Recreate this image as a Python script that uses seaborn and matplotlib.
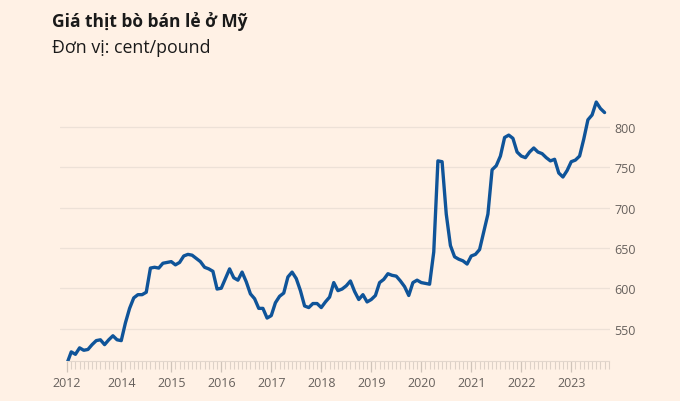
import numpy as np
import pandas as pd
import matplotlib
matplotlib.use("Agg")
import matplotlib.pyplot as plt
import seaborn as sns

# Monthly retail beef price (cent/pound), Dec 2012 .. Sep 2023
prices = [
    507, 521, 518, 526, 523, 524, 530, 535, 536, 530, 536, 541, 536,   # Dec12-Dec13
    535, 557, 575, 588, 592, 592, 595, 625, 626, 625, 631, 632,        # 2014
    633, 629, 632, 640, 642, 641, 637, 633, 626, 624, 621, 599,        # 2015
    600, 612, 624, 613, 610, 620, 608, 593, 587, 575, 575, 563,        # 2016
    566, 582, 590, 594, 614, 620, 612, 597, 578, 576, 581, 581,        # 2017
    576, 583, 589, 607, 597, 599, 603, 609, 596, 586, 592, 583,        # 2018
    586, 591, 607, 611, 618, 616, 615, 609, 602, 591, 607, 610,        # 2019
    607, 606, 605, 645, 758, 757, 692, 653, 639, 636, 634, 630,        # 2020
    640, 642, 648, 670, 692, 747, 752, 764, 787, 790, 786, 769,        # 2021
    764, 762, 769, 774, 769, 767, 762, 758, 760, 743, 738, 746,        # 2022
    757, 759, 764, 785, 809, 815, 831, 823, 818,                       # 2023
]
month_index = list(range(len(prices)))
year_labels = ["2012", "2014", "2015", "2016", "2017", "2018", "2019",
               "2020", "2021", "2022", "2023"]
year_label_pos = [0, 13, 25, 37, 49, 61, 73, 85, 97, 109, 121]
y_ticks = [550, 600, 650, 700, 750, 800]

title = "Giá thịt bò bán lẻ ở Mỹ"
subtitle = "Đơn vị: cent/pound"

df = pd.DataFrame({"m": month_index, "price": prices})

BG = "#FFF1E5"
sns.set_theme(style="white")
plt.rcParams["font.family"] = ["Open Sans", "DejaVu Sans"]

fig = plt.figure(figsize=(6.8, 4.02), dpi=100, facecolor=BG)
ax = fig.add_axes([60 / 680, 1 - 362 / 402, (610 - 60) / 680, (362 - 95) / 402])
ax.set_facecolor(BG)

sns.lineplot(data=df, x="m", y="price", ax=ax, color="#0F5499",
             linewidth=2.4, solid_joinstyle="round", solid_capstyle="round")

x0 = -1.7
x1 = x0 + (610 - 60) / 4.1667
ax.set_xlim(x0, x1)
ax.set_ylim(509.7, 841)

ax.set_yticks(y_ticks)
ax.yaxis.tick_right()
ax.tick_params(axis="y", length=0, pad=3, labelsize=9, labelcolor="#66605C")
for v in y_ticks:
    ax.axhline(v, color="#EDE1D7", linewidth=0.9, zorder=0)

ax.set_xticks(year_label_pos)
ax.set_xticklabels(year_labels)
ax.set_xticks(month_index + [len(prices)], minor=True)
ax.tick_params(axis="x", which="major", bottom=True, length=8, width=0.9,
               color="#CFC3B9", labelsize=9, labelcolor="#66605C", pad=3)
ax.tick_params(axis="x", which="minor", bottom=True, length=5.5, width=0.8,
               color="#DDD1C7")

for s in ["top", "left", "right"]:
    ax.spines[s].set_visible(False)
ax.spines["bottom"].set_color("#E3D7CD")
ax.spines["bottom"].set_linewidth(0.8)
ax.spines["bottom"].set_bounds(0, len(prices))
ax.set_xlabel("")
ax.set_ylabel("")
ax.grid(False)

fig.text(52 / 680, 1 - 22 / 402, title, fontsize=12.5, fontweight="bold",
         color="#1A1A1A", va="center", ha="left")
fig.text(52 / 680, 1 - 48 / 402, subtitle, fontsize=12.8, color="#1A1A1A",
         va="center", ha="left")

fig.savefig("out.png", dpi=100, facecolor=BG)
